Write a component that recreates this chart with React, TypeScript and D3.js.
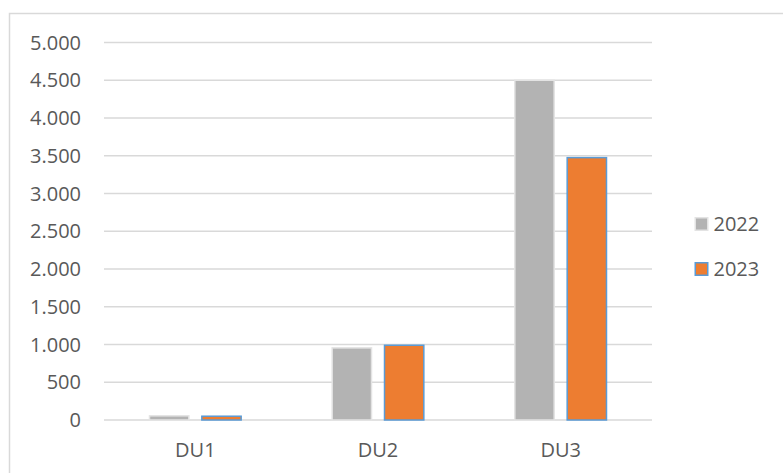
import * as d3 from 'd3'

const categories = ['DU1', 'DU2', 'DU3']
const seriesNames = ['2022', '2023']
const values2022 = [65, 965, 4510]
const values2023 = [60, 1000, 3485]
const yTicks = [0, 500, 1000, 1500, 2000, 2500, 3000, 3500, 4000, 4500, 5000]

const W = 783
const H = 473
const margin = { top: 42.5, right: 131, bottom: 53, left: 104 }
const font = '"Open Sans", sans-serif'
const textColor = '#595959'

const fills = ['#b3b3b3', '#ed7d31']
const strokes = ['#e3e3e3', '#5b9bd5']

const fmt = (v: number) => d3.format(',')(v).replace(/,/g, '.')

const App = () => {
  const x0 = d3
    .scaleBand()
    .domain(categories)
    .range([margin.left, W - margin.right])
    .paddingInner(0.49)
    .paddingOuter(0.245)
  const x1 = d3
    .scaleBand()
    .domain(seriesNames)
    .range([0, x0.bandwidth()])
    .paddingInner(0.22)

  const y = d3
    .scaleLinear()
    .domain([0, 5000])
    .range([H - margin.bottom, margin.top])

  const series = [values2022, values2023]

  return (
    <svg
      width={W}
      height={H}
      style={{ position: 'absolute', left: 0, top: 0, background: '#fff' }}
    >
      <rect x={9.5} y={13.5} width={W} height={H} fill="#fff" stroke="#d9d9d9" strokeWidth={1.5} />
      {yTicks.map(t => (
        <g key={t}>
          <line
            x1={margin.left}
            x2={W - margin.right}
            y1={y(t)}
            y2={y(t)}
            stroke="#d9d9d9"
            strokeWidth={1.5}
          />
          <text
            x={81}
            y={y(t)}
            dy="0.35em"
            textAnchor="end"
            fontFamily={font}
            fontSize={20}
            fill={textColor}
          >
            {fmt(t)}
          </text>
        </g>
      ))}
      {categories.map((c, i) => (
        <g key={c} transform={`translate(${x0(c)},0)`}>
          {seriesNames.map((s, j) => {
            const v = series[j][i]
            return (
              <rect
                key={s}
                x={(x1(s) as number) + 0.75}
                y={y(v) + 0.75}
                width={x1.bandwidth() - 1.5}
                height={Math.max(0, y(0) - y(v) - 0.75)}
                fill={fills[j]}
                stroke={strokes[j]}
                strokeWidth={1.5}
              />
            )
          })}
          <text
            x={x0.bandwidth() / 2}
            y={450}
            dy="0.35em"
            textAnchor="middle"
            fontFamily={font}
            fontSize={20}
            fill={textColor}
          >
            {c}
          </text>
        </g>
      ))}
      {seriesNames.map((s, j) => (
        <g key={s} transform={`translate(694.5,${224 + j * 45})`}>
          <rect
            x={0.75}
            y={-6.25}
            width={12.5}
            height={12.5}
            fill={fills[j]}
            stroke={strokes[j]}
            strokeWidth={1.5}
          />
          <text x={19} y={0} dy="0.35em" fontFamily={font} fontSize={20} fill={textColor}>
            {s}
          </text>
        </g>
      ))}
    </svg>
  )
}

export default App
